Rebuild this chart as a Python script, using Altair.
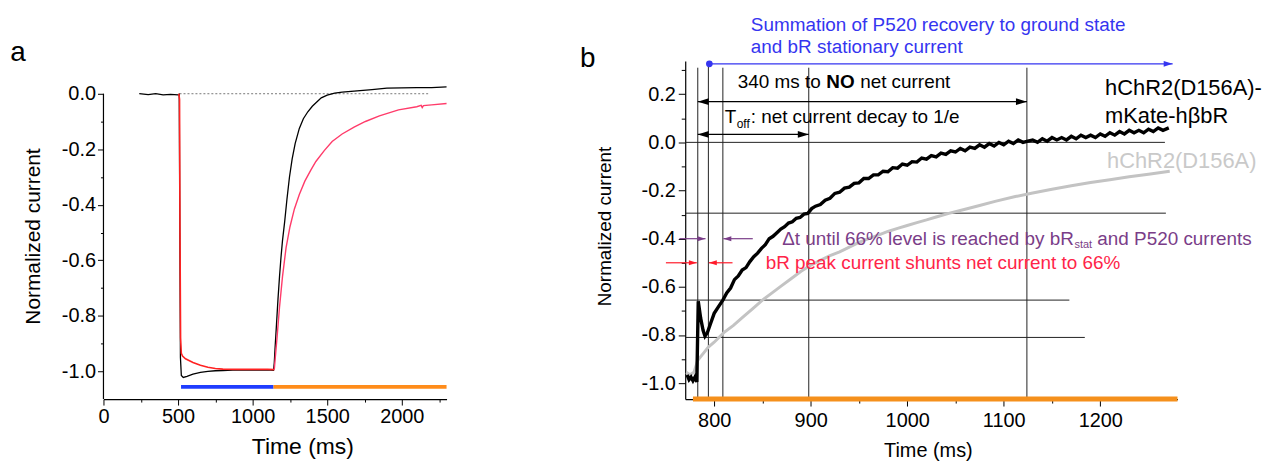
import altair as alt
import pandas as pd

FONT = "Liberation Sans"
BLUE = "#3535f0"
PURPLE = "#7a3d88"
RED_T = "#ff2448"
GRAY_L = "#c3c3c3"
GRAY_T = "#c9c9c9"
ORANGE = "#f5901c"

# ---------------- panel a data (time ms, normalized current) ----------------
a_black = [(240, 0.0), (300, -0.003), (350, 0.0), (400, -0.004), (450, -0.002), (500, -0.004),
           (508, -0.002), (512, -0.5), (516, -0.95), (522, -1.015), (535, -1.022), (560, -1.018),
           (600, -1.01), (650, -1.004), (700, -1.0), (750, -0.998), (800, -0.997), (900, -0.995),
           (1000, -0.996), (1100, -0.995), (1140, -0.996), (1145, -0.97), (1150, -0.92),
           (1160, -0.83), (1170, -0.74), (1180, -0.66), (1190, -0.59), (1200, -0.53),
           (1215, -0.46), (1230, -0.38), (1247, -0.30), (1265, -0.235), (1285, -0.18),
           (1313, -0.125), (1340, -0.09), (1370, -0.065), (1400, -0.045), (1430, -0.03),
           (1460, -0.015), (1500, -0.005), (1550, 0.002), (1600, 0.006), (1700, 0.01),
           (1800, 0.015), (1900, 0.02), (2000, 0.021), (2100, 0.022), (2200, 0.022), (2300, 0.025)]
a_red_on = [(505, 0.0), (510, -0.02), (513, -0.5), (517, -0.88), (522, -0.935), (530, -0.945),
            (550, -0.955), (600, -0.968), (650, -0.978), (700, -0.985), (750, -0.99),
            (800, -0.992), (900, -0.993), (1000, -0.993), (1100, -0.993), (1145, -0.994)]
a_red_off = [(1145, -0.994), (1152, -0.95), (1165, -0.87), (1180, -0.77), (1200, -0.66),
             (1224, -0.555), (1250, -0.48), (1280, -0.415), (1313, -0.363), (1350, -0.315),
             (1390, -0.275), (1424, -0.244), (1480, -0.205), (1533, -0.172), (1600, -0.145),
             (1680, -0.12), (1756, -0.10), (1850, -0.08), (1978, -0.058), (2100, -0.047),
             (2130, -0.042), (2137, -0.05), (2145, -0.043), (2200, -0.04), (2300, -0.035)]
a_zero_line = [(510, 0.0), (2180, 0.0)]
a_light_blue = [(520, -1.056), (1140, -1.056)]
a_light_orange = [(1140, -1.056), (2300, -1.056)]

# ---------------- panel b data ----------------
b_black = [(772, -0.965), (774, -0.985), (776, -0.975), (778, -0.99), (780, -0.975), (782, -0.995),
           (783.5, -0.66), (786, -0.73), (788.5, -0.78), (790.5, -0.805), (793, -0.79),
           (796, -0.755), (800, -0.71), (804, -0.685), (809, -0.655), (813, -0.625),
           (817, -0.605), (821, -0.57), (825, -0.555), (829, -0.53), (833, -0.52),
           (837, -0.495), (841, -0.475), (845, -0.46), (849, -0.44), (853, -0.425),
           (857, -0.40), (861, -0.39), (865, -0.375), (869, -0.36), (873, -0.35),
           (877, -0.335), (881, -0.33), (885, -0.315), (889, -0.312), (893, -0.298),
           (897, -0.295), (901, -0.275), (905, -0.265), (910, -0.258), (915, -0.24),
           (920, -0.232), (925, -0.212), (930, -0.207), (935, -0.19), (940, -0.186),
           (945, -0.17), (950, -0.168), (955, -0.15), (960, -0.15), (965, -0.135),
           (970, -0.135), (975, -0.12), (980, -0.122), (985, -0.105), (990, -0.107),
           (995, -0.09), (1000, -0.095), (1005, -0.08), (1010, -0.082), (1015, -0.065),
           (1020, -0.07), (1025, -0.055), (1030, -0.06), (1035, -0.045), (1040, -0.05),
           (1045, -0.035), (1050, -0.04), (1055, -0.025), (1060, -0.035), (1065, -0.02),
           (1070, -0.025), (1075, -0.01), (1080, -0.02), (1085, -0.005), (1090, -0.015),
           (1095, 0.0), (1100, -0.01), (1105, 0.005), (1110, -0.005), (1115, 0.01),
           (1120, 0.0), (1125, 0.005), (1130, 0.01), (1135, 0.0), (1140, 0.015),
           (1145, 0.005), (1150, 0.02), (1155, 0.01), (1160, 0.02), (1165, 0.01),
           (1170, 0.025), (1175, 0.015), (1180, 0.03), (1185, 0.02), (1190, 0.03),
           (1195, 0.02), (1200, 0.035), (1205, 0.025), (1210, 0.04), (1215, 0.03),
           (1220, 0.045), (1225, 0.035), (1230, 0.05), (1235, 0.04), (1240, 0.05),
           (1245, 0.04), (1250, 0.055), (1255, 0.045), (1260, 0.06), (1265, 0.05), (1271, 0.06)]
b_gray = [(771, -0.955), (775, -0.965), (779, -0.955), (783, -0.905), (790, -0.87), (794, -0.85),
          (800, -0.83), (810, -0.79), (820, -0.76), (830, -0.725), (840, -0.69), (850, -0.655),
          (860, -0.625), (870, -0.595), (880, -0.565), (890, -0.535), (900, -0.51), (910, -0.49),
          (920, -0.47), (930, -0.455), (940, -0.435), (950, -0.415), (960, -0.40), (970, -0.385),
          (980, -0.37), (990, -0.357), (1000, -0.345), (1010, -0.333), (1020, -0.322),
          (1030, -0.31), (1044, -0.294), (1060, -0.278), (1075, -0.262), (1091, -0.245),
          (1112, -0.225), (1130, -0.21), (1150, -0.195), (1170, -0.18), (1190, -0.167),
          (1210, -0.155), (1230, -0.143), (1250, -0.132), (1272, -0.12)]
b_orange_bar = [(778, -1.066), (1280, -1.066)]

# guide lines of panel b
b_vlines_x = [783, 794, 809, 898, 1124]
b_vlines_top = [0.31, 0.326, 0.31, 0.31, 0.31]
b_hlines_y = [0.0, -0.294, -0.655, -0.81]
b_hlines_end = [1267, 1268, 1168, 1184]

# arrows: segments (x1, x2, y, colour) and heads (x, y, direction, colour, size)
b_arrow_seg = [(795, 1275, 0.326, BLUE), (783, 1124, 0.169, "black"), (783, 898, 0.033, "black"),
               (764, 791, -0.4, PURPLE), (809.5, 840, -0.4, PURPLE),
               (750, 782, -0.5, "#ff1a2a"), (794.5, 819, -0.5, "#ff1a2a")]
b_arrow_head = [(1275, 0.326, "R", BLUE, 81), (783, 0.169, "L", "black", 121), (1124, 0.169, "R", "black", 121),
                (783, 0.033, "L", "black", 121), (898, 0.033, "R", "black", 121),
                (791, -0.4, "R", PURPLE, 64), (809.5, -0.4, "L", PURPLE, 64),
                (782, -0.5, "R", "#ff1a2a", 64), (794.5, -0.5, "L", "#ff1a2a", 64)]
b_dot = [(795, 0.326)]

# annotation texts: x, y, text, colour, size, weight, dx, dy
b_texts = [
    (838, 0.486, "Summation of P520 recovery to ground state", BLUE, 19, "normal", 0, 0),
    (838, 0.395, "and bR stationary current", BLUE, 19, "normal", 0, 0),
    (824.5, 0.25, "340 ms to", "black", 19, "normal", 0, 0),
    (824.5, 0.25, "NO", "black", 19, "bold", 89, 0),
    (824.5, 0.25, "net current", "black", 19, "normal", 123, 0),
    (811, 0.105, "T", "black", 19, "normal", 0, 0),
    (811, 0.105, "off", "black", 12, "normal", 12, 7),
    (811, 0.105, ": net current decay to 1/e", "black", 19, "normal", 26, 0),
    (870.4, -0.4, "\u0394t until 66% level is reached by bR", PURPLE, 19, "normal", 0, 0),
    (870.4, -0.4, "stat", PURPLE, 11, "normal", 294, 6),
    (870.4, -0.4, "and P520 currents", PURPLE, 19, "normal", 317, 0),
    (853.4, -0.5, "bR peak current shunts net current to 66%", RED_T, 19, "normal", 0, 0),
    (1205, 0.226, "hChR2(D156A)-", "black", 22, "normal", 0, 0),
    (1205, 0.111, "mKate-h\u03b2bR", "black", 22, "normal", 0, 0),
    (1207, -0.079, "hChR2(D156A)", GRAY_T, 22, "normal", 0, 0),
]

RIGHT_HEAD = "M0,0L-2,-0.62L-2,0.62Z"
LEFT_HEAD = "M0,0L2,-0.62L2,0.62Z"


def df_xy(pairs):
    return pd.DataFrame(pairs, columns=["x", "y"])


one_row = pd.DataFrame({"k": [0]})

# ---------------- panel a ----------------
sxa = alt.Scale(domain=[0, 2300], nice=False, zero=False)
sya = alt.Scale(domain=[-1.1, 0.118], nice=False, zero=False)
even_y = "abs(round(datum.value*10)) % 2 == 0"
ax_xa = alt.Axis(values=list(range(0, 2300, 250)), format="d",
                 labelExpr="datum.value % 500 == 0 ? datum.label : ''",
                 tickSize={"condition": {"test": "datum.value % 500 == 0", "value": 6}, "value": 3},
                 labelPadding=2, labelFlush=False, labelOverlap=False, labelFontSize=20,
                 title="Time (ms)", titleFontSize=23, titleX=200, titleY=48,
                 titleBaseline="middle", titleAlign="center")
ax_ya = alt.Axis(values=[0, -0.1, -0.2, -0.3, -0.4, -0.5, -0.6, -0.7, -0.8, -0.9, -1.0], format=".1f",
                 labelExpr=even_y + " ? replace(datum.label, '\u2212', '-') : ''",
                 tickSize={"condition": {"test": even_y, "value": 6}, "value": 3},
                 labelPadding=2, labelOverlap=False, domain=False, labelFontSize=20,
                 title="Normalized current", titleFontSize=21, titleX=-70, titleY=176,
                 titleAngle=270, titleBaseline="middle", titleAlign="center")


def XA(f="x"):
    return alt.X(f, type="quantitative", scale=sxa, axis=ax_xa)


def YA(f="y"):
    return alt.Y(f, type="quantitative", scale=sya, axis=ax_ya)


a_axis_line = alt.Chart(pd.DataFrame({"x": [0], "y": [0.0], "y2": [-1.1]})).mark_rule(
    color="black", strokeWidth=1.2).encode(x=XA(), y=YA(), y2="y2")
a_dots = alt.Chart(df_xy(a_zero_line)).mark_line(color="#555555", strokeWidth=0.8, strokeDash=[2, 2]).encode(x=XA(), y=YA())
a_l_black = alt.Chart(df_xy(a_black)).mark_line(color="black", strokeWidth=1.3).encode(x=XA(), y=YA())
a_l_red1 = alt.Chart(df_xy(a_red_on)).mark_line(color="#ff2222", strokeWidth=1.6).encode(x=XA(), y=YA())
a_l_red2 = alt.Chart(df_xy(a_red_off)).mark_line(color="#ff3b6a", strokeWidth=1.4).encode(x=XA(), y=YA())
a_bar_b = alt.Chart(df_xy(a_light_blue)).mark_line(color="#1f3dff", strokeWidth=4).encode(x=XA(), y=YA())
a_bar_o = alt.Chart(df_xy(a_light_orange)).mark_line(color="#ff8c1a", strokeWidth=4).encode(x=XA(), y=YA())
a_label = alt.Chart(one_row).mark_text(font=FONT, fontSize=28, align="center", baseline="middle").encode(
    text=alt.value("a"), x=alt.value(-86), y=alt.value(-8))
anchor = alt.Chart(one_row).mark_rule(color="white", strokeWidth=1).encode(
    x=alt.value(-95), x2=alt.value(-94), y=alt.value(-51))

panel_a = alt.layer(a_axis_line, a_dots, a_l_black, a_l_red1, a_l_red2, a_bar_b, a_bar_o,
                    a_label, anchor).properties(width=345, height=340)

# ---------------- panel b ----------------
sxb = alt.Scale(domain=[770, 1280], nice=False, zero=False)
syb = alt.Scale(domain=[-1.066, 0.338], nice=False, zero=False)
ax_xb = alt.Axis(values=list(range(800, 1201, 50)), format="d",
                 labelExpr="datum.value % 100 == 0 ? datum.label : ''",
                 tickSize={"condition": {"test": "datum.value % 100 == 0", "value": 7}, "value": 4},
                 labelPadding=5, labelFlush=False, labelOverlap=False, labelFontSize=20,
                 title="Time (ms)", titleFontSize=20, titleX=244, titleY=52,
                 titleBaseline="middle", titleAlign="center")
ax_yb = alt.Axis(values=[0.3, 0.2, 0.1, 0, -0.1, -0.2, -0.3, -0.4, -0.5, -0.6, -0.7, -0.8, -0.9, -1.0],
                 format=".1f",
                 labelExpr=even_y + " ? replace(datum.label, '\u2212', '-') : ''",
                 tickSize={"condition": {"test": even_y, "value": 7}, "value": 4},
                 labelPadding=3, labelOverlap=False, labelFontSize=20,
                 title="Normalized current", titleFontSize=19, titleX=-81, titleY=166,
                 titleAngle=270, titleBaseline="middle", titleAlign="center")


def XB(f="x"):
    return alt.X(f, type="quantitative", scale=sxb, axis=ax_xb)


def YB(f="y"):
    return alt.Y(f, type="quantitative", scale=syb, axis=ax_yb)


vl = pd.DataFrame({"x": b_vlines_x, "y": b_vlines_top, "y2": [-1.066] * len(b_vlines_x)})
hl = pd.DataFrame({"x": [770] * len(b_hlines_y), "x2": b_hlines_end, "y": b_hlines_y})
seg = pd.DataFrame(b_arrow_seg, columns=["x", "x2", "y", "c"])
heads = pd.DataFrame(b_arrow_head, columns=["x", "y", "d", "c", "s"])
heads["shape"] = heads["d"].map({"R": RIGHT_HEAD, "L": LEFT_HEAD})

b_layers = [
    alt.Chart(vl).mark_rule(color="#222222", strokeWidth=1).encode(x=XB(), y=YB(), y2="y2"),
    alt.Chart(hl).mark_rule(color="#222222", strokeWidth=1).encode(x=XB(), x2="x2", y=YB()),
    alt.Chart(df_xy(b_gray)).mark_line(color=GRAY_L, strokeWidth=3).encode(x=XB(), y=YB()),
    alt.Chart(df_xy(b_black)).mark_line(color="black", strokeWidth=3.4).encode(x=XB(), y=YB()),
    alt.Chart(df_xy(b_orange_bar)).mark_line(color=ORANGE, strokeWidth=5).encode(x=XB(), y=YB()),
    alt.Chart(seg).mark_rule(strokeWidth=1.2).encode(x=XB(), x2="x2", y=YB(), color=alt.Color("c:N", scale=None)),
    alt.Chart(heads).mark_point(filled=True, opacity=1, strokeWidth=0).encode(
        x=XB(), y=YB(), shape=alt.Shape("shape:N", scale=None),
        color=alt.Color("c:N", scale=None), size=alt.Size("s:Q", scale=None)),
    alt.Chart(df_xy(b_dot)).mark_circle(color=BLUE, size=45, opacity=1).encode(x=XB(), y=YB()),
]
for (tx, ty, tt, tc, ts, tw, tdx, tdy) in b_texts:
    b_layers.append(
        alt.Chart(pd.DataFrame({"x": [tx], "y": [ty], "t": [tt]})).mark_text(
            font=FONT, fontSize=ts, fontWeight=tw, color=tc, align="left", baseline="middle",
            dx=tdx, dy=tdy).encode(x=XB(), y=YB(), text="t:N"))
b_layers.append(alt.Chart(one_row).mark_text(font=FONT, fontSize=28, align="center", baseline="middle").encode(
    text=alt.value("b"), x=alt.value(-98), y=alt.value(-2)))

panel_b = alt.layer(*b_layers).properties(width=495, height=340)

chart = alt.hconcat(panel_a, panel_b, spacing=240, bounds="flush", padding=0).configure_view(
    strokeWidth=0).configure_axis(
    labelFont=FONT, titleFont=FONT, labelColor="black", titleColor="black", tickColor="black",
    domainColor="black", grid=False, titleFontWeight="normal", tickWidth=1, domainWidth=1.2)

chart.save("out.html", embed_options={"renderer": "svg", "actions": False})
